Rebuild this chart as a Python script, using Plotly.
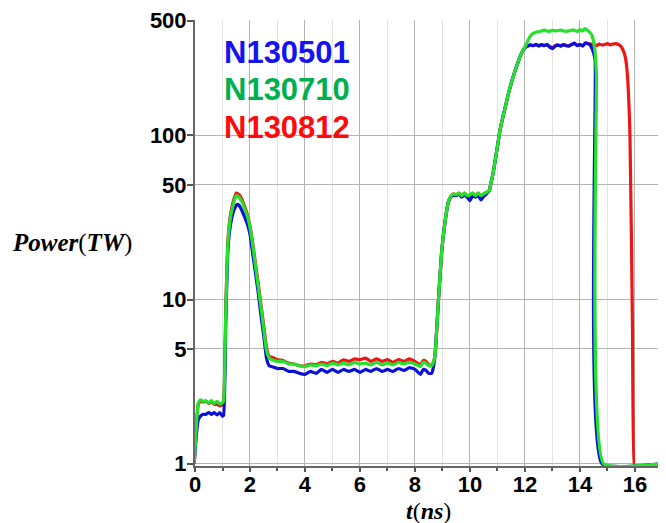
import plotly.graph_objects as go

# ---------------- data ----------------
shots = ["N130501", "N130710", "N130812"]

t_blue = [-0.03, 0.05, 0.12, 0.2, 0.3, 0.4, 0.5, 0.6, 0.7, 0.8, 0.9, 1.0, 1.04, 1.12, 1.19, 1.27, 1.39, 1.52,
          1.6, 1.7, 1.8, 1.9, 2.0, 2.1, 2.2, 2.3, 2.4, 2.5, 2.6, 2.7,
          2.8, 3.0, 3.2, 3.4, 3.6, 3.8, 4.0, 4.2, 4.4, 4.6, 4.8, 5.0, 5.2, 5.4, 5.6, 5.8, 6.0, 6.2, 6.4, 6.6,
          6.8, 7.0, 7.2, 7.4, 7.6, 7.8, 8.0, 8.2, 8.3, 8.4, 8.5, 8.6, 8.66,
          8.73, 8.85, 8.97, 9.09, 9.21, 9.3, 9.39,
          9.5, 9.6, 9.7, 9.8, 9.9, 10.0, 10.1, 10.2, 10.3, 10.4, 10.5, 10.6, 10.7,
          10.75, 10.85, 11.0, 11.1, 11.2, 11.3, 11.4, 11.5, 11.6, 11.7, 11.8, 11.9, 12.0,
          12.1, 12.2, 12.3, 12.4, 12.5, 12.6, 12.7, 12.8, 12.9, 13.0, 13.1, 13.2, 13.3, 13.4, 13.5, 13.6,
          13.7, 13.8, 13.9, 14.0, 14.1, 14.2, 14.3, 14.36, 14.45, 14.55, 14.8, 17.0]
p_blue = [1.0, 1.5, 1.85, 1.95, 2.0, 2.0, 2.05, 2.0, 2.05, 1.98, 2.05, 1.95, 1.97, 7.5, 19, 27, 34, 38,
          37.5, 35, 32, 29, 25, 19, 14.5, 11, 8, 6, 4.4, 3.95,
          3.9, 3.8, 3.8, 3.65, 3.65, 3.55, 3.5, 3.65, 3.55, 3.75, 3.6, 3.75, 3.6, 3.75, 3.65, 3.75, 3.6, 3.75, 3.65, 3.8,
          3.65, 3.75, 3.65, 3.8, 3.7, 3.85, 3.75, 3.5, 3.75, 3.7, 3.55, 3.55, 3.8,
          4.6, 9.7, 19.5, 29.5, 39, 42, 43,
          43, 44, 42, 43.5, 42, 40, 43, 42, 43, 40.5, 42.5, 44, 46,
          50, 60, 86, 109, 130, 153, 180, 208, 236, 265, 296, 323, 342,
          350, 355, 352, 358, 350, 357, 352, 358, 345, 338, 350, 355, 350, 357, 352, 350,
          358, 365, 352, 358, 350, 366, 362, 358, 335, 290, 1.0, 1.0]

t_green = [-0.03, 0.05, 0.12, 0.2, 0.3, 0.4, 0.5, 0.6, 0.7, 0.8, 0.9, 1.0, 1.04, 1.12, 1.19, 1.27, 1.39, 1.5,
           1.6, 1.7, 1.8, 1.9, 2.0, 2.1, 2.2, 2.3, 2.4, 2.5, 2.6, 2.7,
           2.8, 3.0, 3.2, 3.4, 3.6, 3.8, 4.0, 4.2, 4.4, 4.6, 4.8, 5.0, 5.2, 5.4, 5.6, 5.8, 6.0, 6.2, 6.4, 6.6,
           6.8, 7.0, 7.2, 7.4, 7.6, 7.8, 8.0, 8.2, 8.3, 8.4, 8.5, 8.6, 8.66,
           8.73, 8.85, 8.97, 9.09, 9.21, 9.3, 9.39,
           9.5, 9.6, 9.7, 9.8, 9.9, 10.0, 10.1, 10.2, 10.3, 10.4, 10.5, 10.6, 10.7,
           10.75, 10.85, 11.0, 11.1, 11.2, 11.3, 11.4, 11.5, 11.6, 11.7, 11.8, 11.9, 12.0,
           12.1, 12.18, 12.3, 12.4, 12.55, 12.7, 12.85, 13.0, 13.15, 13.3, 13.45, 13.6, 13.75, 13.9, 14.0,
           14.1, 14.18, 14.3, 14.42, 14.5, 14.55, 14.6, 14.86, 17.0]
p_green = [1.0, 1.7, 2.35, 2.45, 2.4, 2.42, 2.35, 2.42, 2.33, 2.4, 2.32, 2.35, 2.4, 8.5, 21, 30, 38, 43,
           42, 39.5, 36, 32.5, 27.5, 21.5, 16, 12, 9, 6.6, 4.9, 4.4,
           4.3, 4.2, 4.2, 4.05, 4.05, 3.95, 3.9, 4.0, 3.95, 4.05, 3.95, 4.1, 4.0, 4.1, 4.0, 4.15, 4.05, 4.1, 4.0, 4.15,
           4.0, 4.1, 4.0, 4.15, 4.05, 4.15, 4.05, 3.9, 4.15, 4.1, 3.95, 3.95, 4.1,
           4.6, 9.7, 19.5, 29.5, 39, 42.5, 44,
           43.5, 44.5, 43, 44.5, 43, 43.5, 44.5, 43, 44.5, 43, 44, 45, 46,
           50, 60, 86, 109, 130, 153, 180, 208, 236, 265, 296, 323, 345,
           375, 400, 418, 425, 430, 438, 430, 436, 433, 438, 431, 433, 439, 430, 441,
           433, 448, 433, 412, 370, 320, 230, 1.0, 1.0]

t_red = [-0.03, 0.05, 0.12, 0.2, 0.3, 0.4, 0.5, 0.6, 0.7, 0.8, 0.9, 1.0, 1.04, 1.12, 1.19, 1.27, 1.39, 1.5,
         1.6, 1.7, 1.8, 1.9, 2.0, 2.1, 2.2, 2.3, 2.4, 2.5, 2.6, 2.7,
         2.8, 3.0, 3.2, 3.4, 3.6, 3.8, 4.0, 4.2, 4.4, 4.6, 4.8, 5.0, 5.2, 5.4, 5.6, 5.8, 6.0, 6.2, 6.4, 6.6,
         6.8, 7.0, 7.2, 7.4, 7.6, 7.8, 8.0, 8.2, 8.3, 8.4, 8.5, 8.6, 8.66,
         8.73, 8.85, 8.97, 9.09, 9.21, 9.3, 9.39,
         9.5, 9.6, 9.7, 9.8, 9.9, 10.0, 10.1, 10.2, 10.3, 10.4, 10.5, 10.6, 10.7,
         10.75, 10.85, 11.0, 11.1, 11.2, 11.3, 11.4, 11.5, 11.6, 11.7, 11.8, 11.9, 12.0,
         12.1, 12.2, 12.3, 12.4, 12.5, 12.6, 12.7, 12.8, 12.9, 13.0, 13.1, 13.2, 13.3, 13.4, 13.5, 13.6,
         13.7, 13.8, 13.9, 14.0, 14.1, 14.2, 14.3, 14.4, 14.5, 14.6, 14.7, 14.8, 14.9, 15.0, 15.1, 15.2,
         15.3, 15.4, 15.48, 15.57, 15.65, 15.72, 15.82, 15.91, 15.97, 16.0]
p_red = [1.0, 1.7, 2.3, 2.4, 2.38, 2.4, 2.33, 2.38, 2.3, 2.3, 2.25, 2.3, 2.35, 8.8, 22, 31, 39.5, 44.5,
         43.5, 41, 37, 33, 28, 22, 16.5, 12.5, 9.3, 6.9, 5.1, 4.5,
         4.45, 4.3, 4.25, 4.1, 4.05, 3.95, 3.95, 4.05, 4.0, 4.15, 4.05, 4.2, 4.1, 4.3, 4.2, 4.35, 4.3, 4.4, 4.2, 4.35,
         4.2, 4.3, 4.15, 4.3, 4.2, 4.35, 4.2, 4.0, 4.25, 4.2, 4.0, 4.0, 4.1,
         4.6, 9.7, 19.5, 29.5, 39, 42.5, 44,
         43.5, 44.5, 43, 44.5, 43, 43, 44.5, 43, 44.5, 43, 44, 45, 46,
         50, 60, 86, 109, 130, 153, 180, 208, 236, 265, 296, 323, 342,
         350, 356, 352, 359, 352, 357, 353, 358, 348, 342, 352, 356, 351, 358, 353, 352,
         358, 362, 354, 358, 352, 364, 362, 360, 358, 352, 360, 355, 358, 362, 356, 360,
         362, 358, 350, 330, 300, 240, 98, 6.7, 1.0, 1.0]

y_tick_vals = [1, 5, 10, 50, 100, 500]
y_tick_text = ["1", "5", "10", "50", "100", "500"]
x_tick_vals = [0, 2, 4, 6, 8, 10, 12, 14, 16]

line_colors = {"N130501": "#0a10d8", "N130710": "#22e22a", "N130812": "#ee1515"}
label_colors = {"N130501": "#1414f0", "N130710": "#00b04e", "N130812": "#ff0a0a"}

# ---------------- figure ----------------
fig = go.Figure()
series = {"N130812": (t_red, p_red), "N130501": (t_blue, p_blue), "N130710": (t_green, p_green)}
for name in ["N130812", "N130501", "N130710"]:
    t, p = series[name]
    fig.add_trace(go.Scatter(x=t, y=p, mode="lines", name=name,
                             line=dict(color=line_colors[name], width=3.2, shape="spline", smoothing=0.4),
                             showlegend=False))

tick_font = dict(family="Liberation Sans, Arial", size=22, color="#000000", weight="bold")

fig.update_xaxes(range=[0, 17.02], tickvals=x_tick_vals, ticktext=[str(v) for v in x_tick_vals],
                 showgrid=True, gridcolor="#b4b4b4", gridwidth=1.3,
                 showline=True, linecolor="#666666", linewidth=2, layer="below traces",
                 ticks="outside", ticklen=4, tickcolor="#555555", tickwidth=1.5,
                 tickfont=tick_font, zeroline=False, ticklabeloverflow="allow",
                 automargin=False, ticklabelstandoff=-6,
                 minor=dict(dtick=1, tick0=0, showgrid=True, gridcolor="#e4e4e4", gridwidth=1.3,
                            ticks="outside", ticklen=3, tickcolor="#555555"))
fig.update_yaxes(type="log", range=[-0.014, 2.703], tickvals=y_tick_vals, ticktext=y_tick_text,
                 showgrid=True, gridcolor="#b4b4b4", gridwidth=1.3,
                 showline=True, linecolor="#666666", linewidth=2,
                 ticks="outside", ticklen=6, tickcolor="#555555", tickwidth=1.5,
                 tickfont=tick_font, zeroline=False, ticklabeloverflow="allow",
                 automargin=False, ticklabelstandoff=-4)

# white box behind the shot labels (covers grid)
fig.add_shape(type="rect", xref="paper", yref="paper", x0=0.021, x1=0.385, y0=0.693, y1=0.99,
              fillcolor="white", line=dict(width=0), layer="between")

label_y = [0.928, 0.845, 0.760]
for name, yy in zip(shots, label_y):
    fig.add_annotation(xref="paper", yref="paper", x=0.058, y=yy, xanchor="left", yanchor="middle",
                       text=name, showarrow=False,
                       font=dict(family="Liberation Sans, Arial", size=31, color=label_colors[name], weight="bold"))

serif = "Liberation Serif, Times New Roman"
fig.add_annotation(xref="paper", yref="paper", x=-0.263, y=0.50, xanchor="center", yanchor="middle",
                   text="<b><i>Power</i></b>(<b><i>TW</i></b>)", showarrow=False,
                   font=dict(family=serif, size=25, color="#000000"))
fig.add_annotation(xref="paper", yref="paper", x=0.498, y=-0.100, xanchor="center", yanchor="middle",
                   text="<b><i>t</i></b>(<b><i>ns</i></b>)", showarrow=False, borderpad=0,
                   font=dict(family=serif, size=24, color="#000000"))

# page body has an 8px margin, so margins are offset to land the plot area where the reference has it
fig.update_layout(width=666, height=523, margin=dict(l=187, r=11, t=12, b=65),
                  paper_bgcolor="white", plot_bgcolor="white", showlegend=False)

fig.write_html("out.html")
